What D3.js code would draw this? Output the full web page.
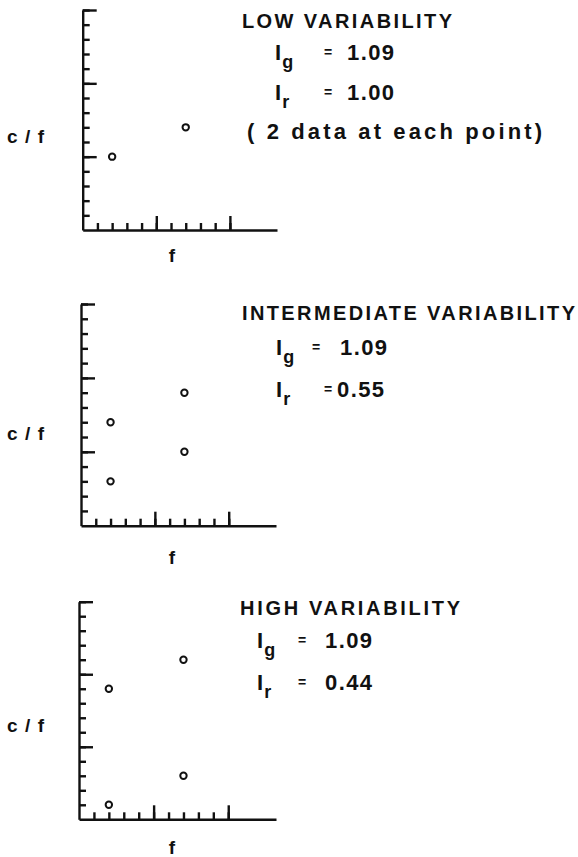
<!DOCTYPE html>
<html>
<head>
<meta charset="utf-8">
<script src="https://cdn.jsdelivr.net/npm/d3@7"></script>
<style>
  body { margin: 0; background: white; }
  text { font-family: "Liberation Sans", Arial, sans-serif; font-weight: bold; fill: #111; }
</style>
</head>
<body>
<main></main>
<script>
// values (three panels, same axes c/f vs f)
const panelTitles = ["LOW VARIABILITY", "INTERMEDIATE VARIABILITY", "HIGH VARIABILITY"]
const igValues = ["1.09", "1.09", "1.09"]
const irValues = ["1.00", "0.55", "0.44"]
const fValues = [[2, 7], [2, 2, 7, 7], [2, 2, 7, 7]]
const cfValues = [[5, 7], [3, 7, 5, 9], [1, 9, 3, 11]]
const noteText = "( 2 data at each point)"

const yTicks = d3.range(1, 16)
const yMajor = [5, 10, 15]
const xTicks = d3.range(1, 11)
const xMajor = [5, 10]

const svgWidth = 578
const svgHeight = 857

// where each panel sits on the page
const layout = [
    { x0: 82.7, top: 10, base: 230, xEnd: 277, titleX: 242, titleY: 28, titleW: 210,
      igY: 60, irY: 100, symX: 275, igEq: 324, igVal: 347, irEq: 324, irVal: 347, cfY: 143, fY: 262 },
    { x0: 81, top: 304, base: 525.7, xEnd: 276, titleX: 242, titleY: 320, titleW: 333,
      igY: 355, irY: 397, symX: 276, igEq: 312, igVal: 340, irEq: 324, irVal: 337, cfY: 440, fY: 564 },
    { x0: 79, top: 601.7, base: 819.3, xEnd: 276, titleX: 240, titleY: 615, titleW: 220,
      igY: 648, irY: 690, symX: 257, igEq: 298, igVal: 325, irEq: 298, irVal: 325, cfY: 732, fY: 854 }
]

let svg = d3.select("main")
    .append("svg")
    .attr("width", svgWidth)
    .attr("height", svgHeight)

layout.forEach((L, p) => {
    let g = svg.append("g")

    let xScale = d3.scaleLinear()
        .domain([0, 13.2])
        .range([L.x0, L.xEnd])

    let yScale = d3.scaleLinear()
        .domain([0, 15])
        .range([L.base, L.top])

    //y axis, ticks point inward
    g.append("g")
        .attr("transform", `translate(${L.x0}, 0)`)
        .call(d3.axisLeft(yScale).tickValues(yTicks).tickSizeInner(-7).tickSizeOuter(0).tickFormat(""))
    g.append("g")
        .attr("transform", `translate(${L.x0}, 0)`)
        .call(d3.axisLeft(yScale).tickValues(yMajor).tickSizeInner(-14).tickSizeOuter(0).tickFormat(""))
        .select(".domain").remove()

    //x axis, ticks point up
    g.append("g")
        .attr("transform", `translate(0, ${L.base})`)
        .call(d3.axisBottom(xScale).tickValues(xTicks).tickSizeInner(-7).tickSizeOuter(0).tickFormat(""))
    g.append("g")
        .attr("transform", `translate(0, ${L.base})`)
        .call(d3.axisBottom(xScale).tickValues(xMajor).tickSizeInner(-14).tickSizeOuter(0).tickFormat(""))
        .select(".domain").remove()

    g.selectAll("path.domain, .tick line")
        .style("stroke", "#111")
        .style("stroke-width", 2.4)

    //points
    g.selectAll("circle")
        .data(fValues[p])
        .enter()
        .append("circle")
        .attr("cx", (d) => xScale(d))
        .attr("cy", (d, i) => yScale(cfValues[p][i]))
        .attr("r", 3.2)
        .attr("fill", "white")
        .attr("stroke", "#111")
        .attr("stroke-width", 2)

    //axis labels
    g.append("text")
        .attr("x", 7)
        .attr("y", L.cfY)
        .attr("textLength", 37)
        .attr("lengthAdjust", "spacing")
        .style("font-size", "19px")
        .text("c/f")

    g.append("text")
        .attr("x", 172)
        .attr("y", L.fY)
        .attr("text-anchor", "middle")
        .style("font-size", "19px")
        .text("f")

    //annotation block
    g.append("text")
        .attr("x", L.titleX)
        .attr("y", L.titleY)
        .attr("textLength", L.titleW)
        .attr("lengthAdjust", "spacing")
        .style("font-size", "20px")
        .text(panelTitles[p])

    let rows = [
        { y: L.igY, sub: "g", eq: L.igEq, valX: L.igVal, val: igValues[p] },
        { y: L.irY, sub: "r", eq: L.irEq, valX: L.irVal, val: irValues[p] }
    ]
    rows.forEach((r) => {
        let t = g.append("text")
            .attr("x", r.sub === "g" ? L.symX : L.symX)
            .attr("y", r.y)
            .style("font-size", "22px")
        t.append("tspan").text("I")
        t.append("tspan")
            .attr("dx", 1)
            .attr("dy", 8)
            .style("font-size", "18px")
            .text(r.sub)

        g.append("text")
            .attr("x", r.eq)
            .attr("y", r.y - 3)
            .style("font-size", "14px")
            .text("=")

        g.append("text")
            .attr("x", r.valX)
            .attr("y", r.y)
            .attr("textLength", 47)
            .attr("lengthAdjust", "spacing")
            .style("font-size", "22px")
            .text(r.val)
    })

    if (p === 0) {
        g.append("text")
            .attr("x", 247)
            .attr("y", 139)
            .attr("textLength", 295)
            .attr("lengthAdjust", "spacing")
            .style("font-size", "22px")
            .text(noteText)
    }
})
</script>
</body>
</html>
